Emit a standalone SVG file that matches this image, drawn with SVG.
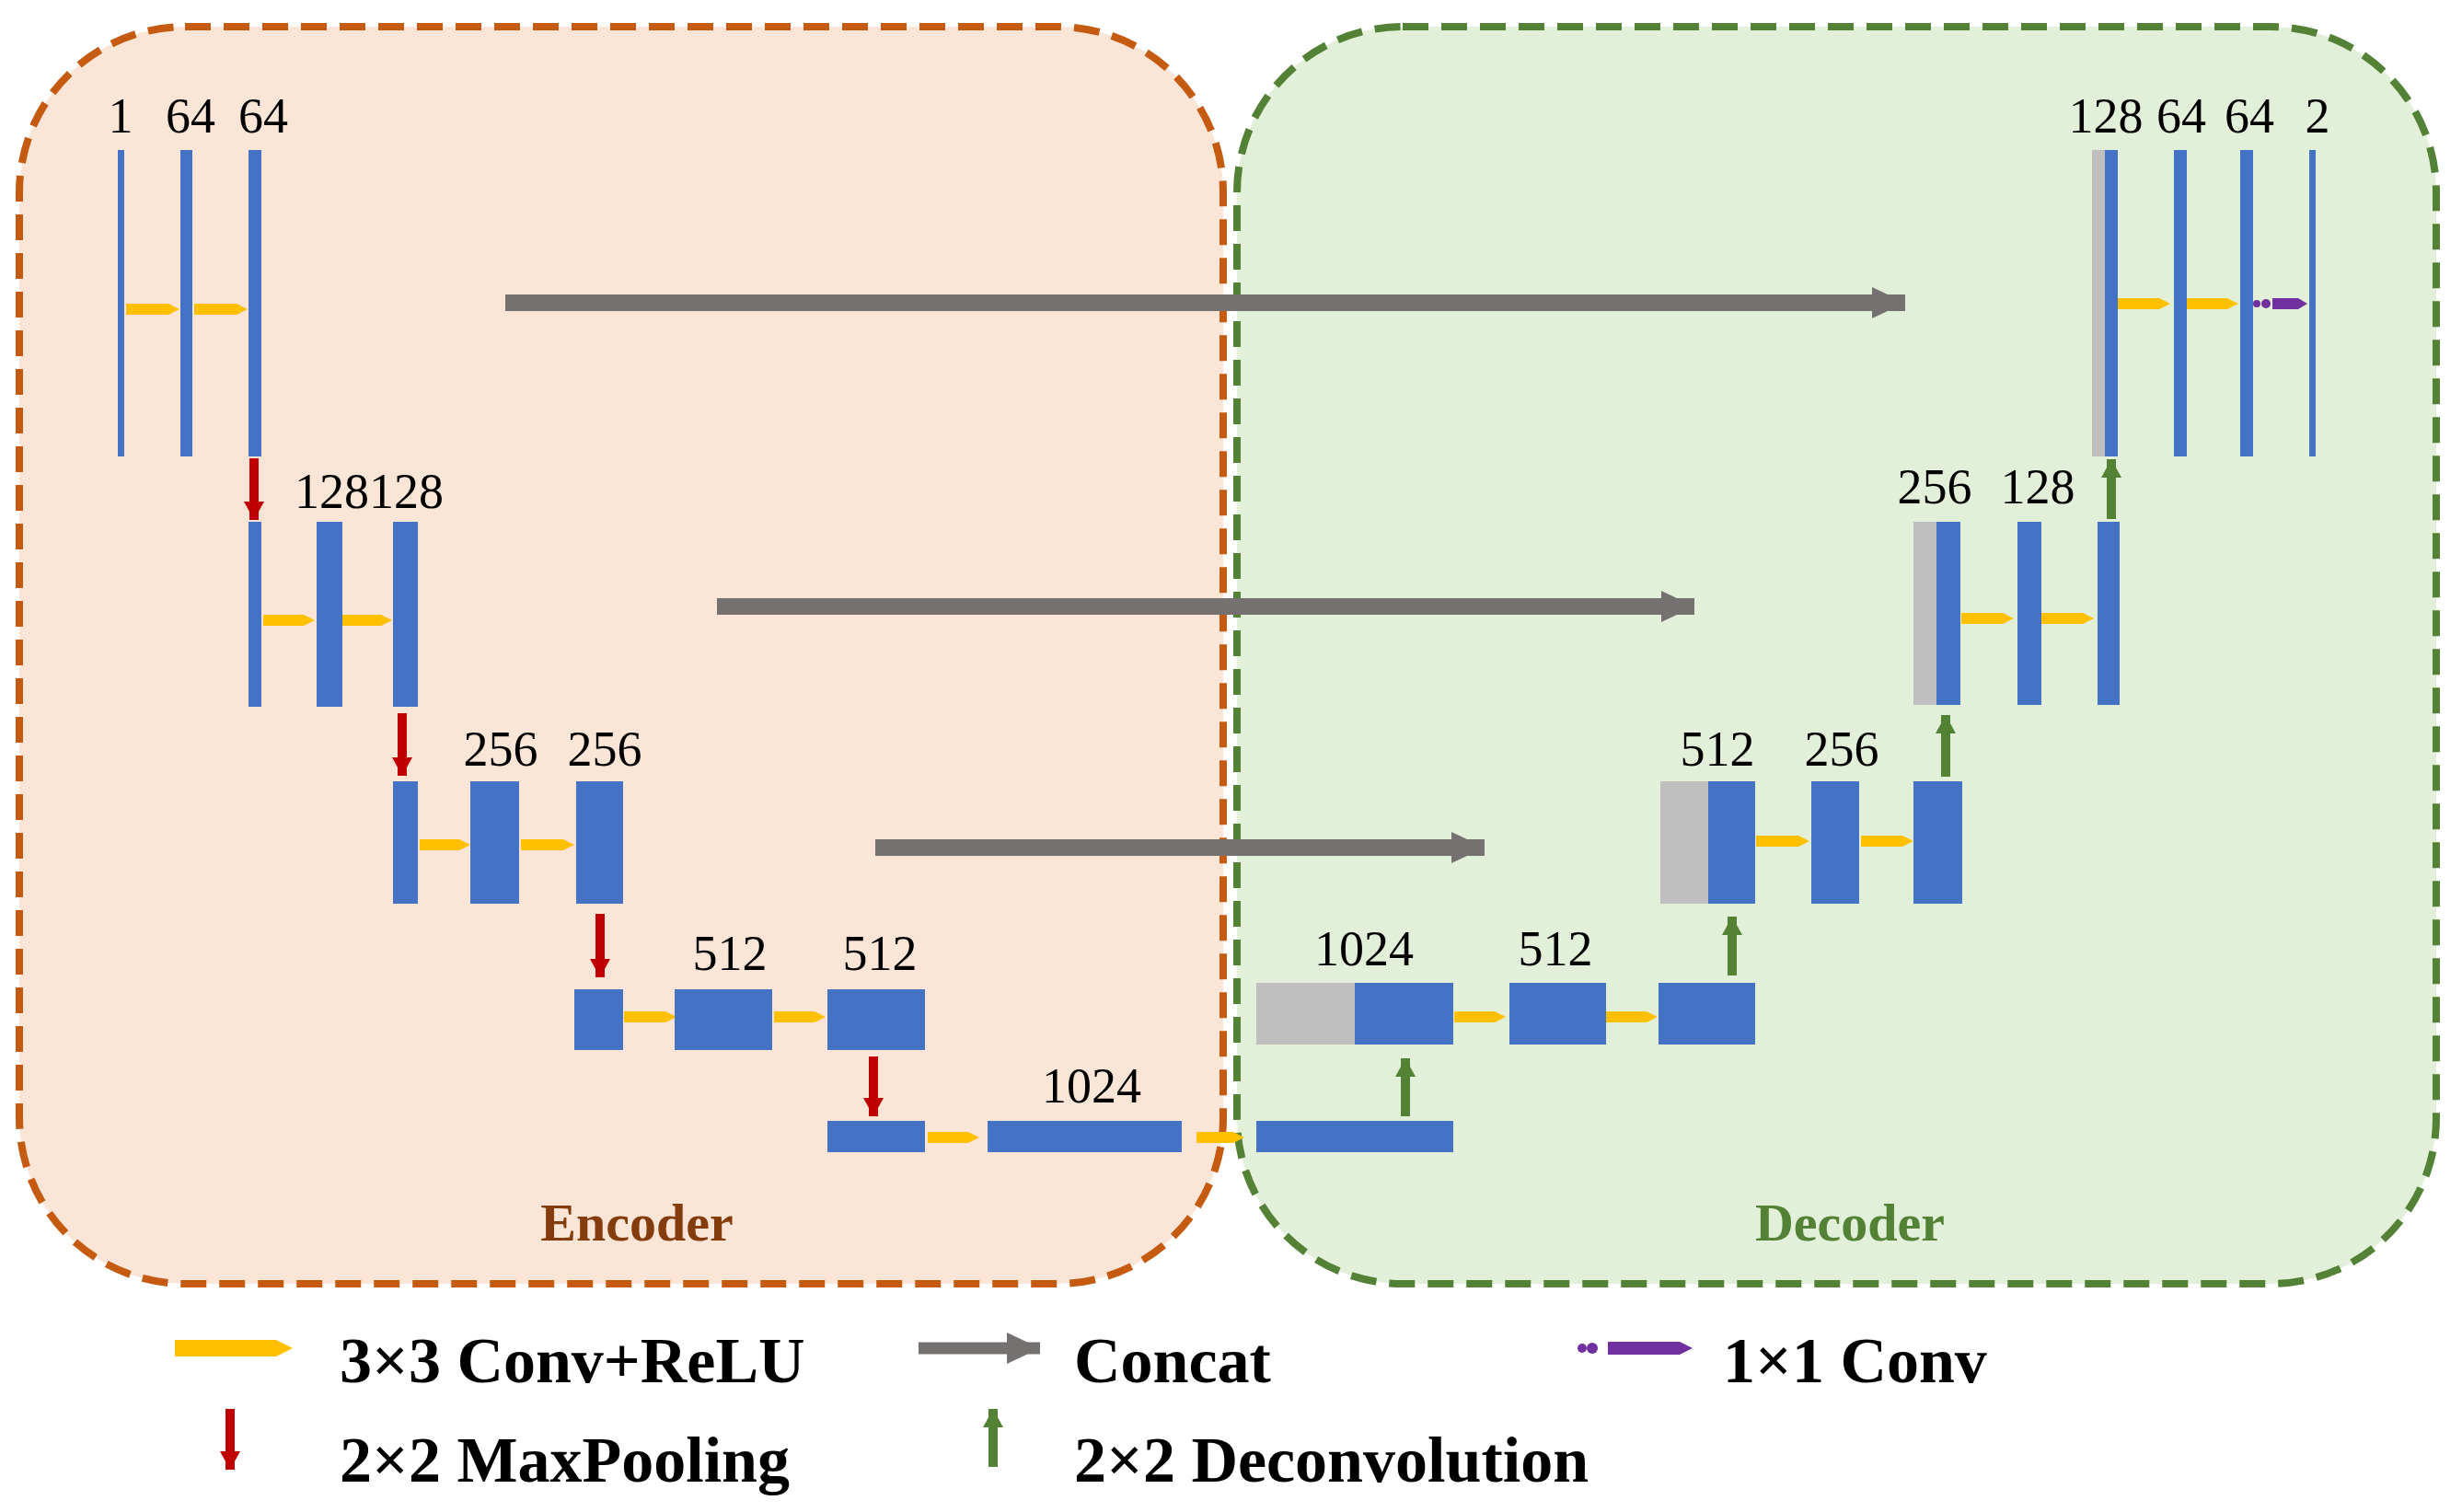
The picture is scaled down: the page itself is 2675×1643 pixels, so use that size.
<svg xmlns="http://www.w3.org/2000/svg" width="2675" height="1643" viewBox="0 0 2675 1643">
<style>
.b{fill:#4472C4}.g{fill:#BFBFBF}
.y{fill:#FFC000}
.lab{font-family:"Liberation Serif",serif;font-size:54px;fill:#000;text-anchor:middle}
.leg{font-family:"Liberation Serif",serif;font-size:70px;font-weight:bold;fill:#000}
.cc{stroke:#767171;stroke-width:18;fill:none}
.red{stroke:#C00000;stroke-width:10;fill:none}
.grn{stroke:#548235;stroke-width:10;fill:none}
</style>
<defs>
<marker id="gh" markerUnits="userSpaceOnUse" markerWidth="36" markerHeight="34" refX="36" refY="17" orient="auto"><path d="M0,0L36,17L0,34z" fill="#767171"/></marker>
<marker id="rh" markerUnits="userSpaceOnUse" markerWidth="22" markerHeight="22" refX="20" refY="11" orient="auto"><path d="M0,0L20,11L0,22z" fill="#C00000"/></marker>
<marker id="vh" markerUnits="userSpaceOnUse" markerWidth="22" markerHeight="22" refX="20" refY="11" orient="auto"><path d="M0,0L20,11L0,22z" fill="#548235"/></marker>
</defs>
<rect x="21" y="29" width="1308" height="1366" rx="180" fill="#FBE5D6" stroke="#C55A11" stroke-width="8" stroke-dasharray="28 14"/>
<rect x="1344" y="29" width="1303" height="1366" rx="180" fill="#E2F0D9" stroke="#538135" stroke-width="8" stroke-dasharray="28 14"/>
<text x="692" y="1348" font-family="Liberation Serif,serif" font-size="58" font-weight="bold" fill="#843C0C" text-anchor="middle">Encoder</text>
<text x="2010" y="1348" font-family="Liberation Serif,serif" font-size="58" font-weight="bold" fill="#538135" text-anchor="middle">Decoder</text>

<g id="connectors">
<line class="cc" x1="549" y1="329" x2="2070" y2="329" marker-end="url(#gh)"/>
<line class="cc" x1="779" y1="659" x2="1841" y2="659" marker-end="url(#gh)"/>
<line class="cc" x1="951" y1="921" x2="1613" y2="921" marker-end="url(#gh)"/>
<line class="red" x1="276" y1="498" x2="276" y2="565" marker-end="url(#rh)"/>
<line class="red" x1="437" y1="775" x2="437" y2="843" marker-end="url(#rh)"/>
<line class="red" x1="652" y1="993" x2="652" y2="1062" marker-end="url(#rh)"/>
<line class="red" x1="949" y1="1148" x2="949" y2="1213" marker-end="url(#rh)"/>
<line class="grn" x1="1527" y1="1213" x2="1527" y2="1150" marker-end="url(#vh)"/>
<line class="grn" x1="1882" y1="1060" x2="1882" y2="996" marker-end="url(#vh)"/>
<line class="grn" x1="2114" y1="844" x2="2114" y2="777" marker-end="url(#vh)"/>
<line class="grn" x1="2294" y1="564" x2="2294" y2="499" marker-end="url(#vh)"/>
<!-- yellow conv arrows -->
<path class="y" d="M137,330h46l12,6l-12,6h-46z"/>
<path class="y" d="M211,330h46l12,6l-12,6h-46z"/>
<path class="y" d="M286,668h44l12,6l-12,6h-44z"/>
<path class="y" d="M372,668h42l12,6l-12,6h-42z"/>
<path class="y" d="M456,912h43l12,6l-12,6h-43z"/>
<path class="y" d="M566,912h46l12,6l-12,6h-46z"/>
<path class="y" d="M678,1099h45l12,6l-12,6h-45z"/>
<path class="y" d="M841,1099h44l12,6l-12,6h-44z"/>
<path class="y" d="M1008,1230h44l12,6l-12,6h-44z"/>
<path class="y" d="M1300,1230h40l12,6l-12,6h-40z"/>
<path class="y" d="M1580,1099h44l12,6l-12,6h-44z"/>
<path class="y" d="M1745,1099h44l12,6l-12,6h-44z"/>
<path class="y" d="M1908,908h46l12,6l-12,6h-46z"/>
<path class="y" d="M2022,908h45l12,6l-12,6h-45z"/>
<path class="y" d="M2131,666h45l12,6l-12,6h-45z"/>
<path class="y" d="M2218,666h45l12,6l-12,6h-45z"/>
<path class="y" d="M2301,324h45l12,6l-12,6h-45z"/>
<path class="y" d="M2376,324h44l12,6l-12,6h-44z"/>
<circle cx="2452" cy="330" r="4" fill="#7030A0"/><circle cx="2462" cy="330" r="5" fill="#7030A0"/>
<path d="M2469,324h28l10,6l-10,6h-28z" fill="#7030A0"/>
</g>

<g id="enc1"><rect class="b" x="128" y="163" width="7" height="333"/><rect class="b" x="196" y="163" width="13" height="333"/><rect class="b" x="270" y="163" width="14" height="333"/>
<text class="lab" x="131" y="144">1</text><text class="lab" x="207" y="144">64</text><text class="lab" x="286" y="144">64</text></g>
<g id="enc2"><rect class="b" x="270" y="567" width="14" height="201"/><rect class="b" x="344" y="567" width="28" height="201"/><rect class="b" x="427" y="567" width="27" height="201"/>
<text class="lab" x="401" y="552">128128</text></g>
<g id="enc3"><rect class="b" x="427" y="849" width="27" height="133"/><rect class="b" x="511" y="849" width="53" height="133"/><rect class="b" x="626" y="849" width="51" height="133"/>
<text class="lab" x="544" y="832">256</text><text class="lab" x="657" y="832">256</text></g>
<g id="enc4"><rect class="b" x="624" y="1075" width="53" height="66"/><rect class="b" x="733" y="1075" width="106" height="66"/><rect class="b" x="899" y="1075" width="106" height="66"/>
<text class="lab" x="793" y="1054">512</text><text class="lab" x="956" y="1054">512</text></g>
<g id="bottom"><rect class="b" x="899" y="1218" width="106" height="34"/><rect class="b" x="1073" y="1218" width="211" height="34"/><rect class="b" x="1365" y="1218" width="214" height="34"/>
<text class="lab" x="1186" y="1198">1024</text></g>
<g id="dec4"><rect class="g" x="1365" y="1068" width="107" height="67"/><rect class="b" x="1472" y="1068" width="107" height="67"/><rect class="b" x="1640" y="1068" width="105" height="67"/><rect class="b" x="1802" y="1068" width="105" height="67"/>
<text class="lab" x="1482" y="1049">1024</text><text class="lab" x="1690" y="1049">512</text></g>
<g id="dec3"><rect class="g" x="1804" y="849" width="52" height="133"/><rect class="b" x="1856" y="849" width="51" height="133"/><rect class="b" x="1968" y="849" width="52" height="133"/><rect class="b" x="2079" y="849" width="53" height="133"/>
<text class="lab" x="1866" y="832">512</text><text class="lab" x="2001" y="832">256</text></g>
<g id="dec2"><rect class="g" x="2079" y="567" width="25" height="199"/><rect class="b" x="2104" y="567" width="26" height="199"/><rect class="b" x="2192" y="567" width="26" height="199"/><rect class="b" x="2279" y="567" width="24" height="199"/>
<text class="lab" x="2102" y="547">256</text><text class="lab" x="2214" y="547">128</text></g>
<g id="dec1"><rect class="g" x="2273" y="163" width="14" height="333"/><rect class="b" x="2287" y="163" width="14" height="333"/><rect class="b" x="2362" y="163" width="14" height="333"/><rect class="b" x="2434" y="163" width="14" height="333"/><rect class="b" x="2509" y="163" width="7" height="333"/>
<text class="lab" x="2288" y="144">128</text><text class="lab" x="2370" y="144">64</text><text class="lab" x="2444" y="144">64</text><text class="lab" x="2518" y="144">2</text></g>

<g id="legend">
<path class="y" d="M190,1456h110l18,9l-18,9h-110z"/>
<text class="leg" x="369" y="1502">3×3 Conv+ReLU</text>
<line x1="998" y1="1465" x2="1130" y2="1465" stroke="#767171" stroke-width="13" marker-end="url(#gh)"/>
<text class="leg" x="1167" y="1502">Concat</text>
<circle cx="1719" cy="1465" r="5" fill="#7030A0"/><circle cx="1730" cy="1465" r="6" fill="#7030A0"/>
<path d="M1747,1458h78l14,7l-14,7h-78z" fill="#7030A0"/>
<text class="leg" x="1872" y="1502">1×1 Conv</text>
<line class="red" x1="250" y1="1531" x2="250" y2="1597" marker-end="url(#rh)"/>
<text class="leg" x="369" y="1610">2×2 MaxPooling</text>
<line class="grn" x1="1079" y1="1594" x2="1079" y2="1531" marker-end="url(#vh)"/>
<text class="leg" x="1167" y="1610">2×2 Deconvolution</text>
</g>
</svg>
